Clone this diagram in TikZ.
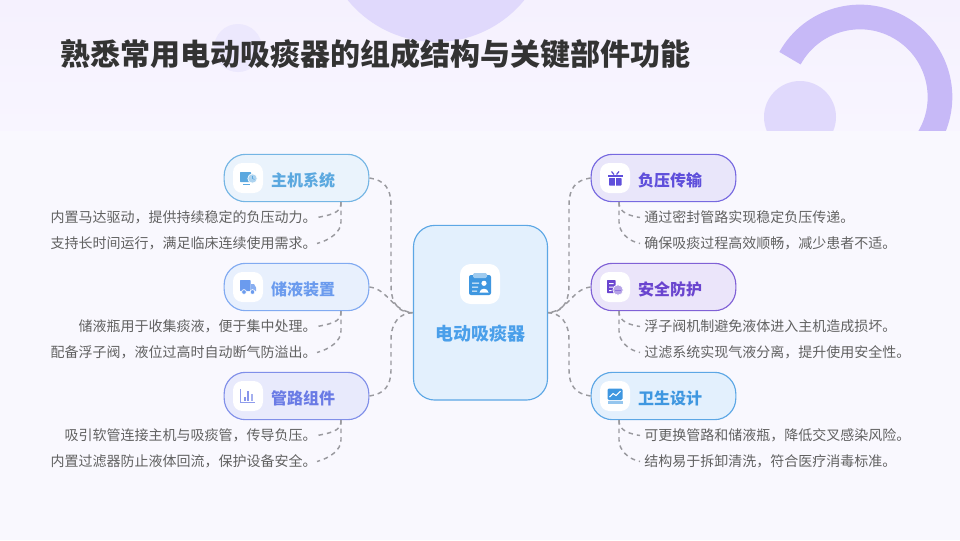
\documentclass[tikz,border=0pt]{standalone}
\usepackage{fontspec}
\setmainfont{Noto Sans CJK SC}
\usepackage{tikz}
\newcommand{\zhcomma}{\char"FF0C\relax}
\definecolor{pageback}{HTML}{F9F8FE}
\definecolor{bandtop}{HTML}{F5F1FE}
\definecolor{bandlow}{HTML}{F8F5FF}
\definecolor{softcirc}{HTML}{E0D9FC}
\definecolor{softtwo}{HTML}{ECE8FD}
\definecolor{ringcol}{HTML}{C7B9F7}
\definecolor{linkcol}{HTML}{9A9A9F}
\definecolor{hostcol}{HTML}{5BA8DF}
\definecolor{tankcol}{HTML}{6B9BEE}
\definecolor{pipecol}{HTML}{6A7BE5}
\definecolor{presscol}{HTML}{5F4FDB}
\definecolor{safecol}{HTML}{6A45CF}
\definecolor{cleancol}{HTML}{3F97E0}
\definecolor{hubcol}{HTML}{4A9FEA}
\definecolor{hostfill}{HTML}{EAF3FC}
\definecolor{tankfill}{HTML}{E8F0FD}
\definecolor{pipefill}{HTML}{E8EAFC}
\definecolor{pressfill}{HTML}{E9E6FA}
\definecolor{safefill}{HTML}{EBE5FA}
\definecolor{cleanfill}{HTML}{E3F0FD}
\begin{document}
\begin{tikzpicture}[x=0.75pt,y=-0.75pt,
	link/.style={draw=linkcol,line width=1.1pt,dash pattern=on 3.4pt off 3pt},
	pill/.style={draw=#1col!85!white,fill=#1fill,line width=0.85pt,rounded corners=16pt,minimum width=108.5pt,minimum height=35.5pt,inner sep=0pt},
	tile/.style={fill=white,rounded corners=7pt,minimum size=22.5pt,inner sep=0pt},
	pilltext/.style={text=#1,font=\fontsize{12pt}{14pt}\selectfont\bfseries,inner sep=0pt},
	leftnote/.style={anchor=east,text=black!62,font=\fontsize{10.5pt}{12pt}\selectfont,inner sep=0pt},
	rightnote/.style={anchor=west,text=black!62,font=\fontsize{10.5pt}{12pt}\selectfont,inner sep=0pt}]
	\useasboundingbox (0,0) rectangle (960,540);
	\fill[pageback] (0,0) rectangle (960,540);
	\shade[top color=bandtop,bottom color=bandlow] (0,0) rectangle (960,130);
	\begin{scope}
		\clip (0,0) rectangle (960,130);
		\fill[softcirc] (436,-72) circle (114);
		\fill[softtwo] (238,48) circle (24);
		\fill[softcirc] (800,117) circle (36);
		\draw[ringcol,line width=18.5pt] (790,58.2) arc[start angle=209,end angle=420,radius=80];
	\end{scope}
	\node[anchor=west,inner sep=0pt,text=black!80,font=\fontsize{22.5pt}{26pt}\selectfont\bfseries] (title) at (60,54) {熟悉常用电动吸痰器的组成结构与关键部件功能};

	\node[draw=cleancol!85!white,fill=cleanfill,line width=0.85pt,rounded corners=16pt,minimum width=100.5pt,minimum height=131pt,inner sep=0pt] (hub) at (480.5,312.7) {};
	\node[pill=host] (host) at (296.5,178) {};
	\node[pill=tank] (tank) at (296.5,287) {};
	\node[pill=pipe] (pipe) at (296.5,396) {};
	\node[pill=press] (press) at (663.5,178) {};
	\node[pill=safe] (safe) at (663.5,287) {};
	\node[pill=clean] (clean) at (663.5,396) {};

	\draw[link] (host.east) .. controls (384,180) and (391,188) .. (391,205) -- (391,285) .. controls (391,305) and (400,313) .. (hub.west);
	\draw[link] (tank.east) .. controls (388,289) and (392,311) .. (hub.west);
	\draw[link] (pipe.east) .. controls (384,394) and (391,386) .. (391,370) -- (391,340) .. controls (391,322) and (400,313) .. (hub.west);
	\draw[link] (press.west) .. controls (576,180) and (569,188) .. (569,205) -- (569,285) .. controls (569,305) and (560,313) .. (hub.east);
	\draw[link] (safe.west) .. controls (572,289) and (568,311) .. (hub.east);
	\draw[link] (clean.west) .. controls (576,394) and (569,386) .. (569,370) -- (569,340) .. controls (569,322) and (560,313) .. (hub.east);

	\node[tile] (hosttile) at (248,178) {};
	\node[tile] (tanktile) at (248,287) {};
	\node[tile] (pipetile) at (248,396) {};
	\node[tile] (presstile) at (615,178) {};
	\node[tile] (safetile) at (615,287) {};
	\node[tile] (cleantile) at (615,396) {};
	\node[fill=white,rounded corners=8pt,minimum size=30pt,inner sep=0pt] (hubtile) at (480,284) {};

	\node[pilltext=hostcol] (hostname) at (303,180.5) {主机系统};
	\node[pilltext=tankcol] (tankname) at (303,289.5) {储液装置};
	\node[pilltext=pipecol] (pipename) at (303,398.5) {管路组件};
	\node[pilltext=presscol] (pressname) at (670,180.5) {负压传输};
	\node[pilltext=safecol] (safename) at (670,289.5) {安全防护};
	\node[pilltext=cleancol] (cleanname) at (670,398.5) {卫生设计};
	\node[text=hubcol,inner sep=0pt,font=\fontsize{13.5pt}{16pt}\selectfont\bfseries] (hubname) at (480,333.5) {电动吸痰器};

	\node[leftnote] (hostone) at (317,217.5) {内置马达驱动\zhcomma 提供持续稳定的负压动力。};
	\node[leftnote] (hosttwo) at (317,243.5) {支持长时间运行\zhcomma 满足临床连续使用需求。};
	\node[leftnote] (tankone) at (317,326.5) {储液瓶用于收集痰液\zhcomma 便于集中处理。};
	\node[leftnote] (tanktwo) at (317,352.5) {配备浮子阀\zhcomma 液位过高时自动断气防溢出。};
	\node[leftnote] (pipeone) at (317,435.5) {吸引软管连接主机与吸痰管\zhcomma 传导负压。};
	\node[leftnote] (pipetwo) at (317,461.5) {内置过滤器防止液体回流\zhcomma 保护设备安全。};
	\node[rightnote] (pressone) at (644,217.5) {通过密封管路实现稳定负压传递。};
	\node[rightnote] (presstwo) at (644,243.5) {确保吸痰过程高效顺畅\zhcomma 减少患者不适。};
	\node[rightnote] (safeone) at (644,326.5) {浮子阀机制避免液体进入主机造成损坏。};
	\node[rightnote] (safetwo) at (644,352.5) {过滤系统实现气液分离\zhcomma 提升使用安全性。};
	\node[rightnote] (cleanone) at (644,435.5) {可更换管路和储液瓶\zhcomma 降低交叉感染风险。};
	\node[rightnote] (cleantwo) at (644,461.5) {结构易于拆卸清洗\zhcomma 符合医疗消毒标准。};

	\coordinate (hostdrop) at (341,202);
	\coordinate (tankdrop) at (341,311);
	\coordinate (pipedrop) at (341,420);
	\coordinate (pressdrop) at (619,202);
	\coordinate (safedrop) at (619,311);
	\coordinate (cleandrop) at (619,420);

	\draw[link] (hostdrop) .. controls (341,210) and (338,214) .. (hostone.east);
	\draw[link] (hostdrop) -- (341,222) .. controls (341,232) and (330,240) .. (hosttwo.east);
	\draw[link] (tankdrop) .. controls (341,319) and (338,323) .. (tankone.east);
	\draw[link] (tankdrop) -- (341,331) .. controls (341,341) and (330,349) .. (tanktwo.east);
	\draw[link] (pipedrop) .. controls (341,428) and (338,432) .. (pipeone.east);
	\draw[link] (pipedrop) -- (341,440) .. controls (341,450) and (330,458) .. (pipetwo.east);
	\draw[link] (pressdrop) .. controls (619,210) and (624,215) .. ([xshift=-3pt]pressone.west);
	\draw[link] (pressdrop) -- (619,222) .. controls (619,232) and (628,241) .. ([xshift=-3pt]presstwo.west);
	\draw[link] (safedrop) .. controls (619,319) and (624,324) .. ([xshift=-3pt]safeone.west);
	\draw[link] (safedrop) -- (619,331) .. controls (619,341) and (628,350) .. ([xshift=-3pt]safetwo.west);
	\draw[link] (cleandrop) .. controls (619,428) and (624,433) .. ([xshift=-3pt]cleanone.west);
	\draw[link] (cleandrop) -- (619,440) .. controls (619,450) and (628,459) .. ([xshift=-3pt]cleantwo.west);

	\fill[hostcol,rounded corners=0.5pt] (240,172) rectangle (251,182);
	\fill[hostcol] (243,183.5) rectangle (250,184.6);
	\fill[hostcol!50!white,draw=white,line width=0.5pt] (252.5,178.5) circle (4.7);
	\draw[hostcol,line width=0.4pt] (252.5,176) -- (252.5,178.5) -- (254.5,179.5);

	\fill[tankcol,rounded corners=0.5pt] (240,280) rectangle (250.5,291);
	\fill[tankcol!80!white] (251,284) -- (254,284) -- (256,287.5) -- (256,291) -- (251,291) -- cycle;
	\fill[tankcol,draw=white,line width=0.5pt] (244,292) circle (2.4);
	\fill[tankcol,draw=white,line width=0.5pt] (252.5,292) circle (2.4);

	\draw[pipecol!75!white,line width=0.6pt] (240.7,389) -- (240.7,402) -- (255,402);
	\fill[pipecol!80!white] (243.5,397) rectangle (245.5,400.5);
	\fill[pipecol!80!white] (247,390.5) rectangle (249,400.5);
	\fill[pipecol!60!white] (250.5,394) rectangle (252.5,400.5);

	\fill[presscol,rounded corners=0.5pt] (609,178) rectangle (621.5,185.5);
	\fill[white] (614.7,178) rectangle (615.8,185.5);
	\fill[presscol] (608,174.5) rectangle (622.5,177);
	\draw[presscol,line width=0.9pt] (611.5,171.5) -- (614,174.5) (619,171.5) -- (616.5,174.5);

	\fill[safecol,rounded corners=0.5pt] (607,280) rectangle (615.5,293);
	\fill[white] (609,283) rectangle (613.5,284) (609,286.5) rectangle (613.5,287.5) (609,290) rectangle (611.5,291);
	\fill[safecol!50!white,draw=white,line width=0.5pt] (618,290) circle (5.2);
	\draw[safecol!75!white,line width=0.4pt] (615,290) -- (621,290);

	\fill[cleancol,rounded corners=1pt] (607.5,388.5) rectangle (622.5,400);
	\draw[white,line width=0.8pt] (609.5,397) -- (613,393.5) -- (616,395.5) -- (620.5,391);
	\fill[cleancol!55!white] (607.5,401) rectangle (622.5,403.5);

	\fill[cleancol,rounded corners=1.5pt] (469,275) rectangle (491,295);
	\fill[cleancol!50!white,rounded corners=1pt] (473,273) rectangle (487,278);
	\fill[white] (472,282.5) rectangle (479,283.5) (472,286.5) rectangle (478,287.5) (472,290.5) rectangle (477,291.5);
	\fill[white] (484,283.3) circle (2.6);
	\fill[white] (479.5,292.5) .. controls (480,287.5) and (488,287.5) .. (488.5,292.5) -- cycle;
\end{tikzpicture}
\end{document}
